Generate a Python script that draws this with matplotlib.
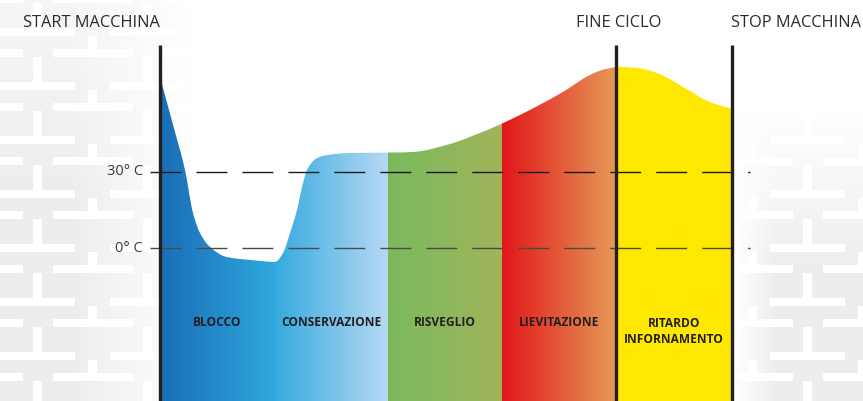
import numpy as np
import matplotlib
matplotlib.use("Agg")
import matplotlib.pyplot as plt
from matplotlib.colors import LinearSegmentedColormap
from matplotlib.patches import PathPatch, Rectangle
from matplotlib.path import Path

# ---------------- data ----------------
# time axis (arbitrary units) and temperature (°C) of the process curve
curve_time = [160, 172, 185, 193, 200, 210, 227, 250, 275, 283, 290, 297,
              303, 308, 317, 327, 350, 388, 413, 447, 480, 503, 530, 563, 590,
              605, 620, 640, 660, 683, 710, 732]
curve_temp = [67.5, 50.0, 30.8, 13.8, 5.9, 0.4, -3.6, -4.7, -5.5, -2.0,
              5.9, 15.0, 25.7, 31.6, 35.5, 36.7, 37.5, 37.6, 37.9, 40.7, 45.4,
              49.3, 54.5, 61.6, 68.3, 70.6, 71.5, 70.9, 68.6, 63.6, 57.6, 54.9]

phase_names = ["BLOCCO", "CONSERVAZIONE", "RISVEGLIO", "LIEVITAZIONE",
               "RITARDO\nINFORNAMENTO"]
phase_bounds = [160, 275, 388, 502, 616, 732]
phase_colors = [("#1a6db6", "#30a8de"), ("#36aadf", "#b7d9f3"),
                ("#79ba5f", "#a2b45a"), ("#e2161a", "#e59a57"),
                ("#ffe800", "#ffe800")]

ref_temps = [30, 0]
ref_labels = ["30° C", "0° C"]

event_times = [160, 616, 732]
event_labels = ["START MACCHINA", "FINE CICLO", "STOP MACCHINA"]

T_MIN, T_MAX = -60.39, 97.89
X_MIN, X_MAX = 0, 863

# ---------------- helpers ----------------
def pchip(x, y, xs):
    x = np.asarray(x, float); y = np.asarray(y, float)
    h = np.diff(x); d = np.diff(y) / h
    m = np.zeros_like(y)
    for k in range(1, len(x) - 1):
        if d[k - 1] * d[k] > 0:
            w1 = 2 * h[k] + h[k - 1]; w2 = h[k] + 2 * h[k - 1]
            m[k] = (w1 + w2) / (w1 / d[k - 1] + w2 / d[k])
    m[0] = d[0]; m[-1] = d[-1]
    idx = np.clip(np.searchsorted(x, xs) - 1, 0, len(x) - 2)
    t = (xs - x[idx]) / h[idx]
    h00 = 2 * t**3 - 3 * t**2 + 1; h10 = t**3 - 2 * t**2 + t
    h01 = -2 * t**3 + 3 * t**2; h11 = t**3 - t**2
    return h00 * y[idx] + h10 * h[idx] * m[idx] + h01 * y[idx + 1] + h11 * h[idx] * m[idx + 1]

W, H = 863, 401
fig = plt.figure(figsize=(W / 100, H / 100), dpi=100)

# ---------------- decorative background (pixel coords) ----------------
bg = fig.add_axes([0, 0, 1, 1])
bg.set_xlim(0, W); bg.set_ylim(H, 0); bg.axis("off")
bg.add_patch(Rectangle((0, 0), W, H, color="#ededed", zorder=0))
px, py = 110, 54
for j in range(-1, 9):
    y0 = 157 - 3 * py + j * py
    for i in range(-1, 9):
        x0 = i * px
        for (rx, ry, rw, rh) in [(53, 0, 80, 8), (33, 8, 9, 25), (0, 33, 75, 8),
                                 (88, 41, 9, 13)]:
            bg.add_patch(Rectangle((x0 + rx, y0 + ry), rw, rh, color="white",
                                   lw=0, zorder=1))
yy, xx = np.mgrid[0:H, 0:W]
g_left = np.clip((190 - xx) / 120, 0, 1) * (0.5 + 0.5 * np.clip(yy / 200, 0, 1))
g_right = np.clip((xx - 735) / 40, 0, 1) * np.clip((yy - 110) / 160, 0, 1)
gray = np.maximum(g_left, g_right)
overlay = np.ones((H, W, 4))
overlay[..., 3] = 1 - gray
bg.imshow(overlay, extent=[0, W, H, 0], aspect="auto", zorder=2,
          interpolation="bilinear")

# ---------------- chart ----------------
ax = fig.add_axes([0, 0, 1, 1])
ax.set_xlim(X_MIN, X_MAX); ax.set_ylim(T_MIN, T_MAX)
ax.axis("off"); ax.patch.set_alpha(0)

xs = np.linspace(curve_time[0], curve_time[-1], 1200)
ys = pchip(curve_time, curve_temp, xs)
verts = [(xs[0], T_MIN)] + list(zip(xs, ys)) + [(xs[-1], T_MIN)]
clip = PathPatch(Path(verts), transform=ax.transData, facecolor="none",
                 edgecolor="none")
ax.add_patch(clip)

for k in range(len(phase_names)):
    x0, x1 = phase_bounds[k], phase_bounds[k + 1]
    cmap = LinearSegmentedColormap.from_list("p%d" % k, list(phase_colors[k]))
    im = ax.imshow(np.linspace(0, 1, 256)[None, :], extent=[x0, x1, T_MIN, T_MAX],
                   aspect="auto", cmap=cmap, interpolation="bilinear", zorder=2)
    im.set_clip_path(clip)
    lab_y = -29.6 if "\n" not in phase_names[k] else -32.8
    ax.text((x0 + x1) / 2, lab_y, phase_names[k], ha="center", va="center",
            fontsize=8.6, fontweight="bold", color="#231f20", family="Open Sans",
            linespacing=1.3, zorder=5)

ax.set_xlim(X_MIN, X_MAX); ax.set_ylim(T_MIN, T_MAX)

# reference dashed lines
for t, c in zip(ref_temps, ["#1a1a1a", "#4a4a4a"]):
    ax.plot([150, 750], [t, t], color=c, lw=1.0,
            linestyle=(0, (22.3, 10.8)), zorder=4)
for t, lab in zip(ref_temps, ref_labels):
    ax.text(143, t, lab, ha="right", va="center", fontsize=10.5,
            color="#3a3a3a", family="Open Sans", zorder=5)

# event lines
top_line = 80.1
for t in event_times:
    ax.plot([t, t], [T_MIN, top_line], color="#231f20", lw=2.4,
            solid_capstyle="butt", zorder=6)
label_y = 88.8
fs = 11.8
ax.text(event_times[0], label_y, event_labels[0], ha="right", va="center",
        fontsize=fs, color="#2a2a2a", family="Open Sans")
ax.text(event_times[1] + 3, label_y, event_labels[1], ha="center", va="center",
        fontsize=fs, color="#2a2a2a", family="Open Sans")
ax.text(event_times[2] - 1, label_y, event_labels[2], ha="left", va="center",
        fontsize=fs, color="#2a2a2a", family="Open Sans")

fig.savefig("out.png", dpi=100)
